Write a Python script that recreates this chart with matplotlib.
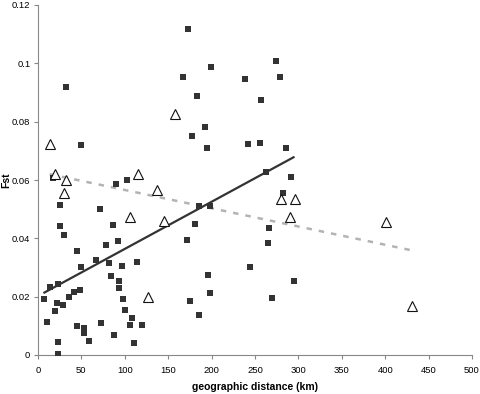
import numpy as np
import matplotlib
matplotlib.use("Agg")
import matplotlib.pyplot as plt

plt.rcParams['font.family'] = ['Liberation Sans', 'DejaVu Sans']

# filled squares
sq_x = [7.4, 10.7, 14.1, 19.8, 21.4, 22.5, 23.3, 22.6, 25.9, 25.9, 29.5, 28.3, 35.6,
        41.3, 44.6, 44.6, 48.2, 49.7, 53.4, 53.4, 58.4, 66.9, 71.5, 72.3, 78.0,
        81.8, 84.1, 86.4, 87.9, 91.7, 93.2, 93.2, 96.7, 97.4, 100.5, 105.5, 108.5,
        110.4, 114.6, 120.3, 171.7, 174.7, 181.2, 185.5, 186.0, 195.9, 198.2, 197.7,
        32.1, 50.1, 17.2, 89.8, 102.5, 172.8, 167.1, 199.5, 183.6, 192.3, 177.7,
        194.6, 273.7, 238.5, 278.7, 257.0, 242.4, 255.4, 285.6, 263.0, 291.6,
        281.8, 266.1, 264.7, 243.8, 294.4, 269.5]
sq_y = [0.0191, 0.0113, 0.0234, 0.0151, 0.0178, 0.0243, 0.0043, 0.0002, 0.0514, 0.0442,
        0.0410, 0.0170, 0.0198, 0.0216, 0.0355, 0.0099, 0.0222, 0.0302, 0.0094, 0.0074,
        0.0048, 0.0327, 0.0500, 0.0110, 0.0376, 0.0316, 0.0271, 0.0447, 0.0070, 0.0391,
        0.0255, 0.0230, 0.0306, 0.0193, 0.0154, 0.0103, 0.0126, 0.0041, 0.0320, 0.0104,
        0.0393, 0.0184, 0.0448, 0.0511, 0.0137, 0.0274, 0.0511, 0.0212,
        0.0919, 0.0720, 0.0606, 0.0585, 0.0599, 0.1119, 0.0954, 0.0988, 0.0889,
        0.0783, 0.0751, 0.0710, 0.1009, 0.0947, 0.0953, 0.0875, 0.0723, 0.0728,
        0.0711, 0.0628, 0.0611, 0.0554, 0.0436, 0.0383, 0.0303, 0.0254, 0.0195]

# open triangles
tri_x = [13.4, 19.8, 31.7, 29.5, 115.0, 158.3, 137.2, 105.5, 145.3, 127.3,
         280.3, 296.3, 290.7, 401.0, 431.2]
tri_y = [0.0723, 0.0619, 0.0599, 0.0554, 0.0622, 0.0826, 0.0566, 0.0474, 0.0458, 0.0200,
         0.0535, 0.0534, 0.0473, 0.0457, 0.0169]

x_ticks = [0, 50, 100, 150, 200, 250, 300, 350, 400, 450, 500]
y_ticks = [0, 0.02, 0.04, 0.06, 0.08, 0.1, 0.12]
y_tick_labels = ['0', '0.02', '0.04', '0.06', '0.08', '0.1', '0.12']

fig = plt.figure(figsize=(4.8, 3.94), dpi=100)
ax = fig.add_axes([38/480, 1-355/394, 434/480, 350/394])

ax.plot(sq_x, sq_y, linestyle='none', marker='s', markersize=4.2,
        markerfacecolor='#333333', markeredgewidth=0, zorder=3)
ax.plot(tri_x, tri_y, linestyle='none', marker='^', markersize=6.5,
        markerfacecolor='white', markeredgecolor='#111111', markeredgewidth=0.8, zorder=4)

# linear trendlines over each series' range
sx = np.array(sq_x); sy = np.array(sq_y)
p = np.polyfit(sx, sy, 1)
xx = np.array([sx.min(), sx.max()])
ax.plot(xx, np.polyval(p, xx), color='#333333', linewidth=1.6, zorder=2)

tx = np.array(tri_x); ty = np.array(tri_y)
q = np.polyfit(tx, ty, 1)
xx2 = np.array([tx.min(), tx.max()])
ax.plot(xx2, np.polyval(q, xx2), color='#b3b3b3', linewidth=1.8,
        linestyle=(0, (2.2, 2.8)), zorder=2)

ax.set_xlim(0, 500)
ax.set_ylim(0, 0.12)
ax.set_xticks(x_ticks)
ax.set_yticks(y_ticks)
ax.set_yticklabels(y_tick_labels)

for s in ['top', 'right']:
    ax.spines[s].set_visible(False)
for s in ['left', 'bottom']:
    ax.spines[s].set_color('#888888')
    ax.spines[s].set_linewidth(0.8)
ax.tick_params(axis='both', direction='out', length=3, width=0.8, color='#888888',
               labelsize=6.8, pad=2.5)
ax.tick_params(axis='x', pad=5)

ax.set_xlabel('geographic distance (km)', fontsize=7.5, fontweight='bold', labelpad=5)
ax.set_ylabel('Fst', fontsize=7.5, fontweight='bold')
ax.yaxis.set_label_coords(-0.062, 0.5)

fig.savefig('out.png', dpi=100)
